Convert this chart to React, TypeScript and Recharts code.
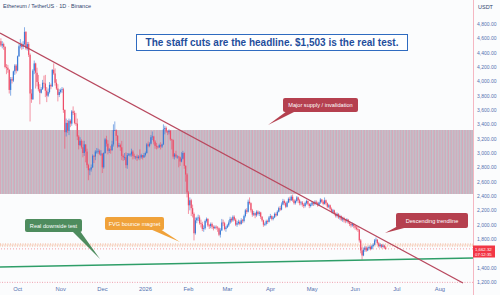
import React from "react";
import { ComposedChart, Bar, XAxis, YAxis, ReferenceLine, ReferenceArea } from "recharts";

// day 0 = Oct 1 2025, first candle is Sep 19
const startDay = -12;
const firstOpen = 4560;

// daily closes, one line per month (Sep .. Jun)
const closes = [
  4500, 4520, 4480, 4200, 4190, 4160, 3880, 4030, 4010, 4140, 4220, 4150,
  4350, 4490, 4510, 4480, 4520, 4690, 4460, 4520, 4370, 3830, 3750, 4150, 4250, 4120, 3990, 3890, 3840, 3890, 3980, 3970, 3870, 3800, 3850, 3950, 3930, 4160, 4110, 3980, 3900, 3810, 3850,
  3880, 3890, 3600, 3290, 3420, 3310, 3450, 3410, 3580, 3560, 3420, 3410, 3230, 3110, 3170, 3080, 3000, 3120, 3020, 2830, 2760, 2770, 2800, 2960, 2950, 3020, 3020, 3030, 2990, 2990,
  2800, 3000, 3190, 3130, 3030, 3050, 3040, 3120, 3320, 3320, 3240, 3090, 3110, 3080, 2960, 2940, 2940, 2830, 2970, 2980, 2980, 3020, 2960, 2950, 2950, 2930, 2950, 2940, 2970, 2940, 2970,
  3000, 3120, 3100, 3130, 3220, 3230, 3160, 3100, 3090, 3080, 3110, 3090, 3120, 3330, 3350, 3300, 3290, 3310, 3190, 3180, 2950, 2980, 2950, 2950, 2940, 2880, 2920, 3000, 2820, 2700, 2450,
  2270, 2340, 2230, 2150, 1880, 2060, 2090, 2100, 2020, 2010, 1940, 1950, 2050, 2080, 1990, 1980, 2010, 1970, 1950, 1970, 1960, 1950, 1860, 1920, 2030, 2020, 1940, 1960,
  1990, 2030, 2080, 2060, 2110, 2070, 2000, 2020, 2040, 2010, 2060, 2050, 2120, 2200, 2180, 2320, 2300, 2200, 2140, 2160, 2130, 2180, 2150, 2170, 2110, 2060, 2000, 2010, 2050, 2040, 2100,
  2120, 2080, 2100, 2150, 2130, 2180, 2230, 2210, 2280, 2330, 2300, 2250, 2310, 2360, 2340, 2390, 2340, 2300, 2330, 2380, 2340, 2300, 2310, 2280, 2260, 2300, 2330, 2290, 2260, 2280,
  2310, 2290, 2320, 2300, 2270, 2310, 2350, 2320, 2290, 2340, 2300, 2250, 2270, 2220, 2180, 2200, 2150, 2120, 2150, 2100, 2120, 2070, 2090, 2060, 2050, 2070, 2030, 2010, 1990, 2010, 1980,
  1960, 1940, 1930, 1780, 1640, 1570, 1650, 1680, 1640, 1670, 1690, 1660, 1700, 1720, 1780, 1790, 1740, 1700, 1720, 1690, 1710, 1680, 1662.32,
];

const highs = [
  4600, 4560, 4540, 4490, 4240, 4230, 4170, 4060, 4060, 4150, 4240, 4240,
  4360, 4520, 4590, 4540, 4560, 4755, 4700, 4550, 4550, 4390, 3890, 4170, 4290, 4260, 4190, 4090, 3960, 3920, 4020, 4080, 4090, 3920, 3900, 3990, 3970, 4170, 4250, 4180, 4030, 3960, 3890,
  3900, 3920, 3910, 3610, 3480, 3460, 3480, 3470, 3600, 3650, 3590, 3560, 3480, 3250, 3220, 3190, 3170, 3170, 3110, 3060, 2850, 2790, 2840, 2980, 2970, 3040, 3070, 3060, 3050, 3040,
  3000, 3010, 3210, 3240, 3180, 3070, 3100, 3170, 3400, 3440, 3330, 3250, 3140, 3130, 3170, 2980, 3000, 3010, 3000, 3000, 3000, 3060, 3040, 2990, 2960, 2980, 2970, 3050, 2990, 2970, 3000,
  3020, 3140, 3160, 3150, 3250, 3300, 3240, 3180, 3140, 3100, 3130, 3150, 3130, 3400, 3380, 3370, 3310, 3330, 3320, 3200, 3190, 3000, 3030, 2970, 2960, 2950, 3010, 3030, 3010, 2830, 2720,
  2470, 2380, 2360, 2280, 2170, 2100, 2110, 2140, 2130, 2070, 2040, 1990, 2070, 2100, 2090, 2010, 2030, 2030, 1990, 1990, 1990, 1980, 1960, 1950, 2080, 2070, 2040, 1980,
  2010, 2060, 2110, 2100, 2130, 2130, 2090, 2050, 2070, 2060, 2090, 2080, 2140, 2220, 2230, 2350, 2380, 2310, 2220, 2190, 2170, 2200, 2200, 2190, 2180, 2120, 2070, 2030, 2070, 2070, 2120,
  2150, 2130, 2120, 2170, 2170, 2200, 2250, 2260, 2310, 2360, 2350, 2320, 2330, 2380, 2390, 2410, 2420, 2360, 2350, 2400, 2390, 2360, 2330, 2330, 2300, 2320, 2350, 2340, 2300, 2300,
  2330, 2320, 2340, 2340, 2320, 2320, 2370, 2360, 2340, 2380, 2350, 2310, 2290, 2280, 2240, 2220, 2210, 2170, 2170, 2160, 2140, 2130, 2110, 2110, 2080, 2090, 2080, 2050, 2030, 2030, 2020,
  2000, 1990, 1970, 1940, 1800, 1690, 1680, 1700, 1700, 1690, 1710, 1710, 1720, 1740, 1800, 1820, 1800, 1760, 1740, 1730, 1730, 1720, 1700,
];

const lows = [
  4480, 4460, 4440, 4180, 4100, 4120, 3830, 3800, 3970, 3990, 4090, 4110,
  4140, 4340, 4460, 4440, 4450, 4500, 4440, 4430, 4340, 3440, 3700, 3740, 4100, 3900, 3930, 3860, 3680, 3830, 3880, 3910, 3780, 3710, 3780, 3830, 3890, 3920, 4090, 3940, 3880, 3720, 3780,
  3830, 3840, 3560, 3060, 3230, 3280, 3250, 3360, 3380, 3530, 3400, 3380, 3180, 3050, 3100, 3060, 2940, 2960, 2870, 2790, 2620, 2690, 2740, 2790, 2860, 2900, 2990, 2990, 2970, 2960,
  2720, 2780, 2990, 3090, 2980, 3000, 2990, 3030, 3090, 3310, 3170, 3070, 3080, 3030, 2900, 2890, 2900, 2790, 2780, 2960, 2950, 2950, 2910, 2920, 2910, 2890, 2910, 2900, 2920, 2910, 2930,
  2950, 2990, 3080, 3080, 3120, 3180, 3120, 3060, 3050, 3060, 3070, 3050, 3070, 3110, 3260, 3280, 3250, 3260, 3170, 3050, 2920, 2910, 2930, 2920, 2800, 2820, 2870, 2910, 2780, 2600, 2380,
  2150, 2200, 2120, 2100, 1780, 1860, 2020, 2050, 2000, 1960, 1910, 1900, 1930, 2030, 1970, 1940, 1950, 1940, 1920, 1940, 1930, 1900, 1840, 1820, 1910, 1980, 1920, 1900,
  1950, 1970, 2010, 2030, 2040, 2050, 1980, 1970, 2000, 1990, 2000, 2020, 2030, 2100, 2150, 2170, 2280, 2170, 2110, 2120, 2090, 2110, 2130, 2120, 2080, 2040, 1970, 1980, 1990, 2010, 2030,
  2080, 2060, 2060, 2090, 2110, 2120, 2170, 2190, 2200, 2270, 2270, 2230, 2240, 2300, 2310, 2330, 2320, 2280, 2280, 2310, 2300, 2270, 2270, 2250, 2230, 2240, 2280, 2270, 2230, 2240,
  2260, 2260, 2270, 2280, 2250, 2260, 2290, 2300, 2270, 2280, 2270, 2230, 2230, 2200, 2160, 2150, 2130, 2100, 2100, 2080, 2070, 2050, 2040, 2030, 2020, 2030, 2010, 1980, 1960, 1970, 1950,
  1930, 1920, 1900, 1750, 1600, 1510, 1560, 1620, 1620, 1630, 1650, 1640, 1650, 1680, 1710, 1750, 1720, 1680, 1680, 1670, 1680, 1660, 1650,
];

const monthTicks = [0, 31, 61, 92, 123, 151, 182, 212, 243, 273, 304];
const monthLabels = ["Oct", "Nov", "Dec", "2026", "Feb", "Mar", "Apr", "May", "Jun", "Jul", "Aug"];
// 1,600 sits under the last-price tag, so it is not listed
const priceTicks = [1200, 1400, 1800, 2000, 2200, 2400, 2600, 2800, 3000, 3200, 3400, 3600, 3800, 4000, 4200, 4400, 4600, 4800];

const supplyZone = [2428, 3321];
const fvgZone = [1702, 1730];
const lastPrice = 1662.32;
const floorLevel = 1195;
const trendline = [{ x: -12.7, y: 4674 }, { x: 320.6, y: 1186 }];
const supportLine = [{ x: -12.7, y: 1409 }, { x: 327.8, y: 1535 }];

const UP = "#3b7bd6";
const DOWN = "#ee4d68";
const AXIS_TEXT = "#5571b0";
const FONT = "'Liberation Sans', Arial, sans-serif";

const candles = closes.map((c, i) => {
  const o = i === 0 ? firstOpen : closes[i - 1];
  const h = Math.max(highs[i], o, c);
  const l = Math.min(lows[i], o, c);
  return { t: startDay + i, o, h, l, c, range: [l, h] };
});

const Candle = (props: any) => {
  const { x, y, width, height, payload } = props;
  if (!payload || x == null) return null;
  const { o, h, l, c } = payload;
  const top = Math.min(y, y + height);
  const span = Math.abs(height);
  const k = h === l ? 0 : span / (h - l);
  const yo = top + (h - o) * k;
  const yc = top + (h - c) * k;
  const cx = x + width / 2;
  const col = c >= o ? UP : DOWN;
  const bTop = Math.min(yo, yc);
  const bH = Math.max(Math.abs(yc - yo), 0.8);
  return (
    <g>
      <line x1={cx} x2={cx} y1={top} y2={top + span} stroke={col} strokeWidth={0.6} />
      <rect x={cx - 0.6} y={bTop} width={1.2} height={bH} fill={col} />
    </g>
  );
};

const YTick = (props: any) => {
  const { x, y, payload } = props;
  return (
    <text x={x - 4} y={y + 2} fontSize={5} fill={AXIS_TEXT} fontFamily={FONT}>
      {payload.value.toLocaleString("en-US", { minimumFractionDigits: 2 })}
    </text>
  );
};

const XTick = (props: any) => {
  const { x, payload } = props;
  const i = monthTicks.indexOf(payload.value);
  return (
    <text x={x} y={291} fontSize={5.8} fill={AXIS_TEXT} fontFamily={FONT} textAnchor="middle">
      {monthLabels[i]}
    </text>
  );
};

function Callout({ box, base, tip, fill, text }: any) {
  const [x, y, w, h] = box;
  return (
    <g>
      <polygon points={`${base[0]},${base[1]} ${base[2]},${base[3]} ${tip[0]},${tip[1]}`} fill={fill} />
      <rect x={x} y={y} width={w} height={h} rx={2} fill={fill} />
      <text x={x + w / 2} y={y + h / 2 + 2} fontSize={5.6} fill="#ffffff" textAnchor="middle" fontFamily={FONT}>
        {text}
      </text>
    </g>
  );
}

export default function App() {
  return (
    <div style={{ position: "relative", width: 500, height: 295, background: "#fbfcfd" }}>
      <style>{"body{margin:0}"}</style>
      <svg width={0} height={0} style={{ position: "absolute" }}>
        <defs>
          <pattern id="hatch" patternUnits="userSpaceOnUse" width={2.8} height={10}>
            <rect x={0} y={0} width={1.1} height={10} fill="#d9a6b8" />
            <rect x={1.1} y={0} width={1.7} height={10} fill="#bdbac4" />
          </pattern>
        </defs>
      </svg>
      <ComposedChart width={500} height={295} data={candles} margin={{ top: 0, right: 0, bottom: 0, left: 0 }}>
        <XAxis
          dataKey="t"
          type="number"
          domain={[-12.7, 327.8]}
          allowDataOverflow
          ticks={monthTicks}
          interval={0}
          tick={<XTick />}
          axisLine={false}
          tickLine={false}
          height={10}
        />
        <YAxis
          orientation="right"
          type="number"
          domain={[1158, 5135]}
          allowDataOverflow
          ticks={priceTicks}
          interval={0}
          tick={<YTick />}
          axisLine={false}
          tickLine={false}
          width={27}
        />
        <ReferenceArea y1={supplyZone[0]} y2={supplyZone[1]} fill="url(#hatch)" fillOpacity={1} stroke="none" />
        <ReferenceArea y1={fvgZone[0]} y2={fvgZone[1]} fill="#f7d7c4" fillOpacity={0.35} stroke="#f2a27c" strokeDasharray="1 1.5" strokeWidth={0.8} />
        <ReferenceLine y={floorLevel} stroke="#ee8a9a" strokeDasharray="1 1.5" strokeWidth={0.8} />
        <Bar dataKey="range" shape={<Candle />} barSize={1.4} isAnimationActive={false} />
        <ReferenceLine y={lastPrice} stroke="#f23645" strokeOpacity={0.6} strokeDasharray="1 2" strokeWidth={0.8} />
        <ReferenceLine segment={supportLine} stroke="#2e9e68" strokeWidth={1.6} ifOverflow="visible" />
        <ReferenceLine segment={trendline} stroke="#b8485e" strokeWidth={1.4} ifOverflow="visible" />
      </ComposedChart>
      <svg width={500} height={295} style={{ position: "absolute", left: 0, top: 0, pointerEvents: "none" }}>
        <line x1={473.5} x2={473.5} y1={0} y2={295} stroke="#f5b7c2" strokeWidth={1} />
        <text x={3} y={8} fontSize={5.5} fill="#31456e" fontFamily={FONT}>
          Ethereum / TetherUS · 1D · Binance
        </text>
        <text x={478} y={9} fontSize={5.5} fill="#31456e" fontFamily={FONT}>
          USDT
        </text>
        <rect x={136.5} y={34.5} width={271} height={16} fill="#ffffff" stroke="#2f6bc0" strokeWidth={1} />
        <text x={272} y={46} fontSize={10} fontWeight="bold" fill="#1f4e9c" textAnchor="middle" fontFamily={FONT}>
          The staff cuts are the headline. $1,503 is the real test.
        </text>
        <Callout box={[283, 98, 75, 14]} base={[287, 111, 296, 111]} tip={[268, 125]} fill="#b5404f" text="Major supply / invalidation" />
        <Callout box={[396, 213, 72, 15]} base={[398, 226, 408, 227]} tip={[385, 233]} fill="#b5404f" text="Descending trendline" />
        <Callout box={[25, 219, 57, 13]} base={[72, 231, 80, 231]} tip={[100, 259]} fill="#4e8c5e" text="Real downside test" />
        <Callout box={[105, 217, 59, 13]} base={[150, 229, 160, 229]} tip={[180, 242]} fill="#f0a23a" text="FVG bounce magnet" />
        <rect x={473} y={245.5} width={22} height={12} fill="#f23645" />
        <text x={475} y={250.5} fontSize={4.3} fill="#ffffff" fontFamily={FONT}>1,662.32</text>
        <text x={475} y={256} fontSize={4.3} fill="#ffffff" fontFamily={FONT}>07:12:35</text>
      </svg>
    </div>
  );
}
